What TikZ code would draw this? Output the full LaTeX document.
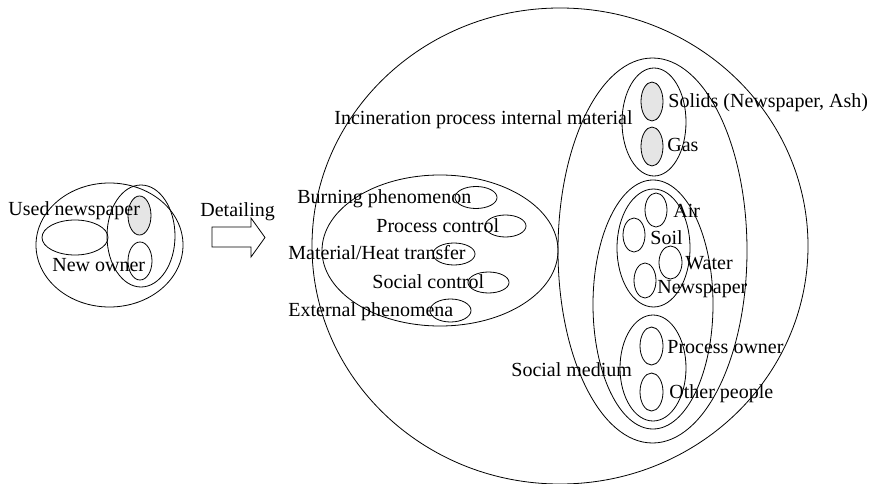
\documentclass[tikz,border=0pt]{standalone}
\usepackage{fontspec}
\setmainfont{Liberation Serif}
\begin{document}
\begin{tikzpicture}[x=1pt,y=-1pt,line width=0.8pt,
  lbl/.style={font=\fontsize{20}{24}\selectfont,inner sep=0pt,anchor=base west},
  shade/.style={fill=black!10,draw=black}]
\useasboundingbox (0,0) rectangle (878,484);

% ---- overview on the left ----
\draw (109.5,245) ellipse [x radius=73.5pt,y radius=62pt];
\draw (75,237.5) ellipse [x radius=33pt,y radius=17.5pt];
\draw (141,236) ellipse [x radius=34pt,y radius=51pt];
\draw[shade] (139.5,215.5) ellipse [x radius=11.5pt,y radius=19.5pt];
\draw (140,261) ellipse [x radius=12pt,y radius=19pt];
\node[lbl] (used) at (8,215) {Used newspaper};
\node[lbl] (owner) at (52,271) {New owner};

% ---- detailing arrow ----
\node[lbl] (detail) at (200,216) {Detailing};
\draw (212,227) -- (251,227) -- (251,218) -- (265,237.5) -- (251,257) -- (251,247) -- (212,247) -- cycle;

% ---- detailed view ----
\draw (560,246) ellipse [x radius=248pt,y radius=238pt];

% phenomena group
\draw (440,250.5) ellipse [x radius=118pt,y radius=75.5pt];
\draw (476,197.5) ellipse [x radius=21pt,y radius=11pt];
\draw (505.5,226) ellipse [x radius=20.5pt,y radius=11pt];
\draw (454,254) ellipse [x radius=21pt,y radius=11pt];
\draw (488.5,282.5) ellipse [x radius=20.5pt,y radius=10.5pt];
\draw (450.5,310.5) ellipse [x radius=20.5pt,y radius=11.5pt];
\node[lbl] (burn) at (297,203) {Burning phenomenon};
\node[lbl] (pctl) at (376,232) {Process control};
\node[lbl] (heat) at (288,259) {Material/Heat transfer};
\node[lbl] (sctl) at (372,288) {Social control};
\node[lbl] (ext) at (288,316) {External phenomena};

% material / medium group
\draw (652.5,250.5) ellipse [x radius=94.5pt,y radius=192.5pt];
\draw (654,122) ellipse [x radius=32pt,y radius=54pt];
\draw[shade] (652,101.5) ellipse [x radius=11pt,y radius=19.5pt];
\draw[shade] (652,146.5) ellipse [x radius=11pt,y radius=19.5pt];
\node[lbl] (solids) at (668,108) {Solids (Newspaper, Ash)};
\node[lbl] (gas) at (667,152) {Gas};
\node[lbl,anchor=base east] (incin) at (633,125) {Incineration process internal material};

\draw (653,304.5) ellipse [x radius=60pt,y radius=124.5pt];
\draw (653.5,248) ellipse [x radius=36.5pt,y radius=59pt];
\draw (656,210) ellipse [x radius=11pt,y radius=17pt];
\draw (634,235) ellipse [x radius=11pt,y radius=17pt];
\draw (670.5,262.5) ellipse [x radius=11.5pt,y radius=16.5pt];
\draw (645,280.5) ellipse [x radius=11pt,y radius=17.5pt];
\node[lbl] (air) at (673,217) {Air};
\node[lbl] (soil) at (650,244) {Soil};
\node[lbl] (water) at (685,269) {Water};
\node[lbl] (paper) at (657,293) {Newspaper};

\draw (653,368) ellipse [x radius=33pt,y radius=53pt];
\draw (651.5,346) ellipse [x radius=11.5pt,y radius=19pt];
\draw (651.5,392) ellipse [x radius=11.5pt,y radius=19pt];
\node[lbl] (powner) at (667,353) {Process owner};
\node[lbl] (other) at (669,398) {Other people};
\node[lbl] (social) at (511,376) {Social medium};
\end{tikzpicture}
\end{document}
